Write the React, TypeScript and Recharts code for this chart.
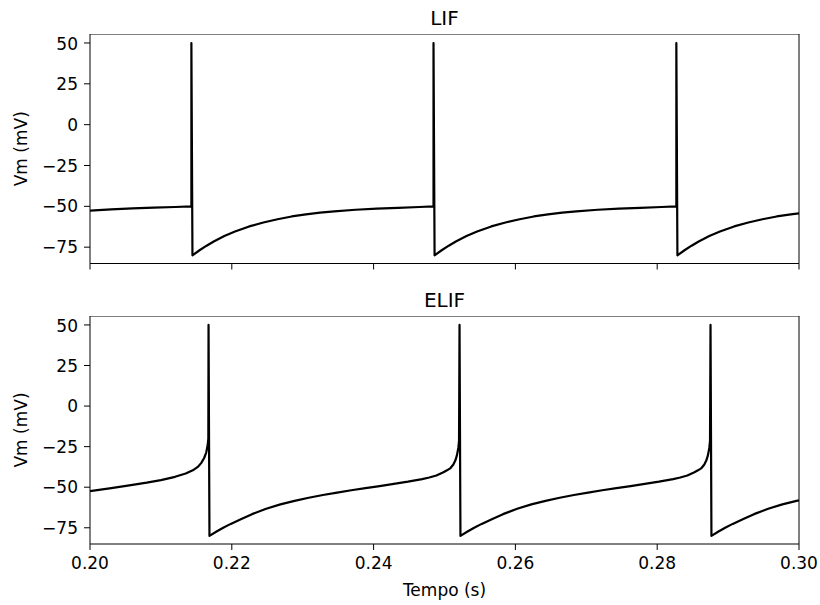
import { LineChart, Line, XAxis, YAxis, ReferenceLine } from "recharts";

// [time (s), Vm (mV)]
const lifTrace: [number, number][] = [
  [0.2, -52.6], [0.203, -51.9], [0.206, -51.3], [0.209, -50.8], [0.212, -50.4], [0.2143, -50.0],
  [0.2143, 50], [0.21445, -80],
  [0.21545, -76.9], [0.21645, -74.1], [0.21745, -71.5], [0.21895, -68.2], [0.22045, -65.4],
  [0.22245, -62.3], [0.22445, -59.9], [0.22645, -57.9], [0.22845, -56.2], [0.23045, -54.9],
  [0.23245, -53.9], [0.23445, -53.1], [0.23745, -52.1], [0.24045, -51.4], [0.24345, -50.9],
  [0.24645, -50.4], [0.24845, -50.0],
  [0.24845, 50], [0.2486, -80],
  [0.2496, -76.9], [0.2506, -74.1], [0.2516, -71.5], [0.2531, -68.2], [0.2546, -65.4],
  [0.2566, -62.3], [0.2586, -59.9], [0.2606, -57.9], [0.2626, -56.2], [0.2646, -54.9],
  [0.2666, -53.9], [0.2686, -53.1], [0.2716, -52.1], [0.2746, -51.4], [0.2776, -50.9],
  [0.2806, -50.4], [0.2827, -50.0],
  [0.2827, 50], [0.28285, -80],
  [0.28385, -76.9], [0.28485, -74.1], [0.28585, -71.5], [0.28735, -68.2], [0.28885, -65.4],
  [0.29085, -62.3], [0.29285, -59.9], [0.29485, -57.9], [0.29685, -56.2], [0.29885, -54.9],
  [0.3, -54.3],
];

const elifTrace: [number, number][] = [
  [0.2, -52.4], [0.203, -50.6], [0.206, -48.6], [0.208, -47.2], [0.21, -45.6], [0.212, -43.6],
  [0.2135, -41.6], [0.2145, -39.6], [0.2152, -37.5], [0.2157, -35.0], [0.2161, -32.0],
  [0.2164, -28.5], [0.2166, -24.0], [0.21669, -20.0],
  [0.21672, 50], [0.21685, -80],
  [0.21785, -77.3], [0.21885, -74.8], [0.21985, -72.6], [0.22135, -69.6], [0.22285, -66.6],
  [0.22485, -63.3], [0.22685, -60.6], [0.22885, -58.4], [0.23085, -56.5], [0.23285, -54.8],
  [0.23485, -53.3], [0.23685, -51.9], [0.23885, -50.6], [0.24085, -49.3], [0.24285, -48.0],
  [0.24485, -46.6], [0.24685, -45.0], [0.24785, -44.0], [0.24885, -42.8], [0.24985, -40.8],
  [0.25035, -39.6], [0.25085, -38.2], [0.25125, -36.0], [0.25155, -33.3], [0.25175, -30.4],
  [0.25195, -25.8], [0.25205, -21.5],
  [0.25212, 50], [0.25225, -80],
  [0.25325, -77.3], [0.25425, -74.8], [0.25525, -72.6], [0.25675, -69.6], [0.25825, -66.6],
  [0.26025, -63.3], [0.26225, -60.6], [0.26425, -58.4], [0.26625, -56.5], [0.26825, -54.8],
  [0.27025, -53.3], [0.27225, -51.9], [0.27425, -50.6], [0.27625, -49.3], [0.27825, -48.0],
  [0.28025, -46.6], [0.28225, -45.0], [0.28325, -44.0], [0.28425, -42.8], [0.28525, -40.8],
  [0.28575, -39.6], [0.28625, -38.2], [0.28665, -36.0], [0.28695, -33.3], [0.28715, -30.4],
  [0.28735, -25.8], [0.28745, -21.5],
  [0.28752, 50], [0.28765, -80],
  [0.28865, -77.3], [0.28965, -74.8], [0.29065, -72.6], [0.29215, -69.6], [0.29365, -66.6],
  [0.29565, -63.3], [0.29765, -60.6], [0.29965, -58.4], [0.3, -58.1],
];

const timeTicks = [0.2, 0.22, 0.24, 0.26, 0.28, 0.3];
const vmTicks = [-75, -50, -25, 0, 25, 50];
const timeDomain = [0.2, 0.3];
const vmDomain = [-85, 55.5];

const FONT = "DejaVu Sans";
const tickStyle = { fill: "#000", fontSize: 17, fontFamily: FONT };
const minus = (v: number) => String(v).replace("-", "\u2212");

const toRows = (trace: [number, number][]) => trace.map(([t, v]) => ({ t, v }));

const Panel = ({
  title,
  trace,
  top,
  height,
  showX,
}: {
  title: string;
  trace: [number, number][];
  top: number;
  height: number;
  showX: boolean;
}) => (
  <div style={{ position: "absolute", left: 0, top, width: 820, height }}>
    <div
      style={{
        position: "absolute",
        left: 90,
        width: 709,
        top: -26,
        textAlign: "center",
        fontFamily: FONT,
        fontSize: 20,
        lineHeight: "20px",
        color: "#000",
      }}
    >
      {title}
    </div>
    <LineChart
      width={820}
      height={height}
      data={toRows(trace)}
      margin={{ top: 0, right: 21, bottom: showX ? 6 : 7, left: 16 }}
    >
      <XAxis
        dataKey="t"
        type="number"
        domain={timeDomain}
        ticks={timeTicks}
        allowDataOverflow
        height={showX ? 55 : 30}
        stroke="#000"
        tickSize={6}
        tickMargin={7}
        tick={tickStyle}
        tickFormatter={(v: number) => (showX ? v.toFixed(2) : "")}
        label={
          showX
            ? {
                value: "Tempo (s)",
                position: "insideBottom",
                offset: 3,
                fill: "#000",
                fontSize: 17,
                fontFamily: FONT,
              }
            : undefined
        }
      />
      <YAxis
        type="number"
        domain={vmDomain}
        ticks={vmTicks}
        allowDataOverflow
        width={74}
        stroke="#000"
        tickSize={6}
        tickMargin={6}
        tick={tickStyle}
        tickFormatter={minus}
        label={{
          value: "Vm (mV)",
          angle: -90,
          position: "insideLeft",
          offset: 5,
          fill: "#000",
          fontSize: 17,
          fontFamily: FONT,
          style: { textAnchor: "middle" },
        }}
      />
      <ReferenceLine y={vmDomain[1]} stroke="#000" strokeWidth={1} />
      <ReferenceLine x={timeDomain[1]} stroke="#000" strokeWidth={1} />
      <Line
        type="linear"
        dataKey="v"
        stroke="#000"
        strokeWidth={2.2}
        dot={false}
        strokeLinejoin="round"
        isAnimationActive={false}
      />
    </LineChart>
  </div>
);

export default function App() {
  return (
    <div
      style={{
        position: "absolute",
        left: 0,
        top: 0,
        width: 820,
        height: 605,
        background: "#fff",
      }}
    >
      <Panel title="LIF" trace={lifTrace} top={33.5} height={266.5} showX={false} />
      <Panel title="ELIF" trace={elifTrace} top={316} height={289} showX />
    </div>
  );
}
